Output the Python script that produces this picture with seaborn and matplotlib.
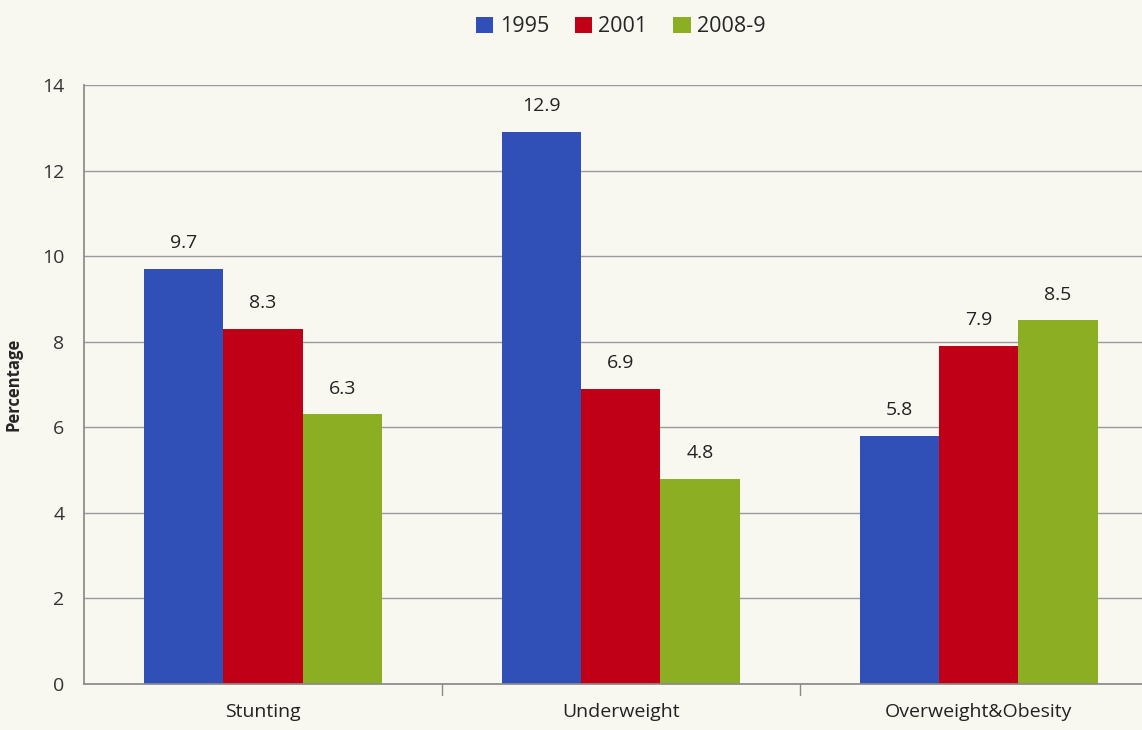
import pandas as pd
import matplotlib.pyplot as plt
import seaborn as sns

# --- datos ---
categories = ["Stunting", "Underweight", "Overweight&Obesity"]
years = ["1995", "2001", "2008-9"]
val_1995 = [9.7, 12.9, 5.8]
val_2001 = [8.3, 6.9, 7.9]
val_2008 = [6.3, 4.8, 8.5]
y_ticks = [0, 2, 4, 6, 8, 10, 12, 14]

colors = ["#3050b8", "#c00016", "#8cae22"]
bg = "#f8f8f0"

df = pd.DataFrame({
    "category": categories * 3,
    "year": [years[0]] * 3 + [years[1]] * 3 + [years[2]] * 3,
    "value": val_1995 + val_2001 + val_2008,
})

sns.set_theme(style="white")
plt.rcParams['font.family'] = ['Open Sans', 'DejaVu Sans']

fig = plt.figure(figsize=(11.42, 7.30), dpi=100, facecolor=bg)
ax = fig.add_axes([0.0736, 0.063, 0.94, 0.8206])
ax.set_facecolor(bg)

sns.barplot(data=df, x="category", y="value", hue="year", order=categories,
            hue_order=years, palette=colors, width=0.665, saturation=1,
            ax=ax, linewidth=0, legend=True)

for cont in ax.containers:
    ax.bar_label(cont, fmt="%.1f", padding=12, fontsize=14, color="#222222")

ax.set_ylim(0, 14)
ax.set_xlim(-0.5, 2.5)
ax.set_yticks(y_ticks)
ax.yaxis.grid(True, color="#9a9a9a", linewidth=1)
ax.set_axisbelow(True)
for s in ["top", "right"]:
    ax.spines[s].set_visible(False)
ax.spines["left"].set_color("#8a8a8a")
ax.spines["bottom"].set_color("#8a8a8a")
ax.tick_params(axis="y", length=0, labelsize=14, labelcolor="#333333", pad=14)
ax.tick_params(axis="x", length=0, labelsize=14, labelcolor="#222222", pad=14)

# marcas entre categorías
for xb in [0.5, 1.5]:
    ax.plot([xb, xb], [0, -0.25], color="#8a8a8a", linewidth=1, clip_on=False)

ax.set_xlabel("")
ax.set_ylabel("Percentage", fontsize=12, fontweight="bold", labelpad=14)

ax.legend(loc="center", bbox_to_anchor=(0.5, (684 - 27) / 599), ncol=3, frameon=False,
          fontsize=15.5, handlelength=0.8, handleheight=0.8, handletextpad=0.3,
          columnspacing=1.2, borderaxespad=0)

fig.savefig("out.png", dpi=100, facecolor=bg)
